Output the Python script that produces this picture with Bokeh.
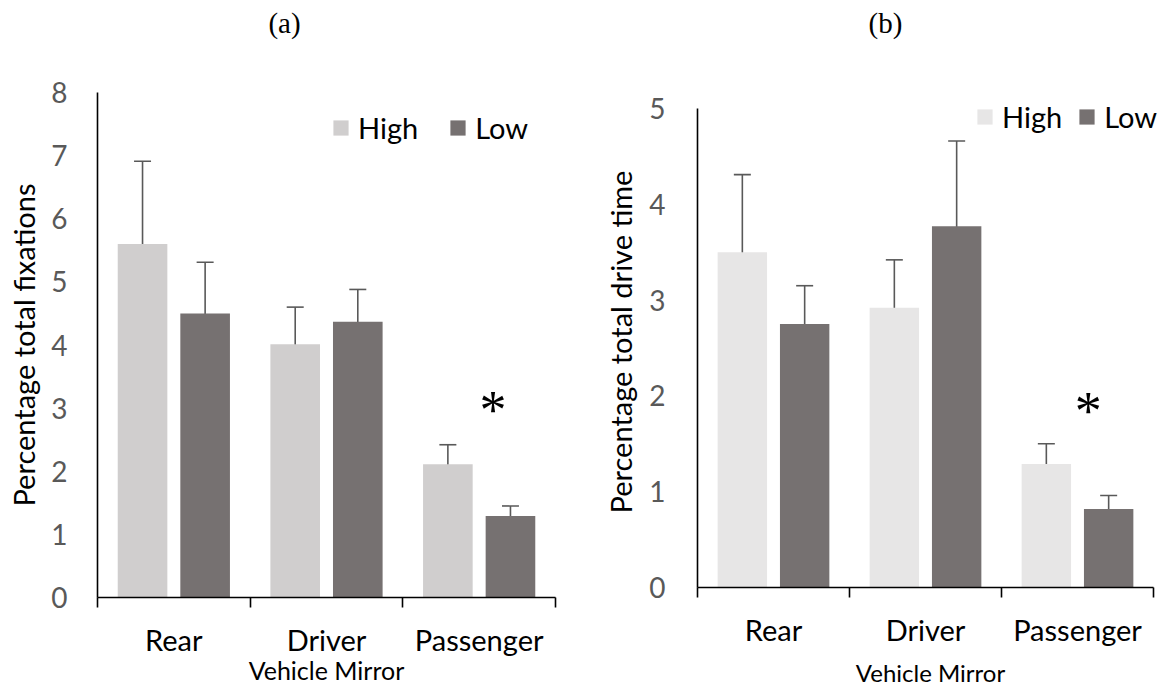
from bokeh.plotting import figure
from bokeh.models import (ColumnDataSource, Range1d, FixedTicker, LinearAxis, Whisker,
                          TeeHead, Legend, LegendItem)
from bokeh.transform import dodge
from bokeh.layouts import row, column
from bokeh.embed import file_html
from bokeh.resources import INLINE
from bokeh.core.properties import value

# ---------------- data ----------------
categories = ["Rear", "Driver", "Passenger"]
groups = ["High", "Low"]
panel_titles = ["(a)", "(b)"]

# (a) percentage total fixations
fix_high = [5.60, 4.01, 2.11]
fix_high_lower = [4.30, 3.41, 1.82]
fix_high_upper = [6.91, 4.60, 2.42]
fix_low = [4.50, 4.37, 1.29]
fix_low_lower = [3.70, 3.87, 1.12]
fix_low_upper = [5.31, 4.88, 1.45]
fix_ticks = [0, 1, 2, 3, 4, 5, 6, 7, 8]
fix_star = ["", "", "*"]
fix_star_y = [0, 0, 3.16]

# (b) percentage total drive time
time_high = [3.50, 2.92, 1.29]
time_high_lower = [2.71, 2.43, 1.09]
time_high_upper = [4.31, 3.42, 1.50]
time_low = [2.75, 3.77, 0.82]
time_low_lower = [2.36, 2.86, 0.70]
time_low_upper = [3.15, 4.66, 0.96]
time_ticks = [0, 1, 2, 3, 4, 5]
time_star = ["", "", "*"]
time_star_y = [0, 0, 1.97]

# ---------------- styling ----------------
HIGH_A = "#D0CECE"
HIGH_B = "#E7E6E6"
LOW_C = "#767171"
ERR_C = "#595959"
FONT = "Lato"
OFF = 0.205
BAR_W = 0.325
TITLE_H = 44
W = 584
H = 689


def title_fig(text, x_range, left, right, tx):
    t = figure(width=W, height=TITLE_H, output_backend="svg", toolbar_location=None,
               x_range=x_range, y_range=Range1d(0, 1),
               min_border_left=left, min_border_right=right,
               min_border_top=0, min_border_bottom=0,
               x_axis_location=None, y_axis_location=None)
    t.frame_align = False
    t.outline_line_color = None
    t.xgrid.visible = False
    t.ygrid.visible = False
    t.text(x=[tx], y=[0.5], text=[text], text_font=value("Liberation Serif"),
           text_font_size="29px", text_align="center", text_baseline="middle",
           text_color="black")
    return t


def panel(ylabel, high, hl, hu, low, ll, lu, ticks, star, star_y, star_dx, high_color,
          borders, x_pad, y_pad, legend_pos, legend_spacing,
          ylab_standoff, xlab_standoff, xlab_size, tick_standoff):
    left, right, top, bottom = borders
    idx = list(range(len(categories)))
    src = ColumnDataSource(dict(
        x=idx, cat=categories, high=high, hl=hl, hu=hu, low=low, ll=ll, lu=lu,
        xh=[i - OFF for i in idx], xl=[i + OFF for i in idx],
        star=star, star_y=star_y,
        xs=[i + star_dx for i in idx],
    ))
    p = figure(width=W, height=H - TITLE_H, output_backend="svg", toolbar_location=None,
               x_range=Range1d(-0.5, len(categories) - 0.5 + x_pad),
               y_range=Range1d(ticks[0], ticks[-1] + y_pad),
               min_border_left=left, min_border_right=right,
               min_border_top=top, min_border_bottom=bottom,
               x_axis_location=None, y_axis_location=None)
    p.frame_align = False
    p.outline_line_color = None
    p.xgrid.visible = False
    p.ygrid.visible = False
    p.background_fill_color = "white"
    p.border_fill_color = "white"

    rh = p.vbar(x=dodge("x", -OFF), top="high", width=BAR_W, source=src,
                fill_color=high_color, line_color=None)
    rl = p.vbar(x=dodge("x", OFF), top="low", width=BAR_W, source=src,
                fill_color=LOW_C, line_color=None)

    for base, lo, up in (("xh", "hl", "hu"), ("xl", "ll", "lu")):
        w = Whisker(base=base, lower=lo, upper=up, source=src,
                    line_color=ERR_C, line_width=1.6,
                    lower_head=TeeHead(size=17, line_color=ERR_C, line_width=1.6),
                    upper_head=TeeHead(size=17, line_color=ERR_C, line_width=1.6))
        p.add_layout(w)

    p.text(x="xs", y="star_y", text="star", source=src,
           text_font=value("Liberation Serif"), text_font_size="54px",
           text_align="center", text_baseline="middle", text_color="black",
           y_offset=12)

    # y axis
    yax = LinearAxis(ticker=FixedTicker(ticks=ticks), bounds=(ticks[0], ticks[-1]))
    yax.axis_label = ylabel
    yax.axis_label_text_font = FONT
    yax.axis_label_text_font_size = "29px"
    yax.axis_label_text_font_style = "normal"
    yax.axis_label_text_color = "black"
    yax.axis_label_standoff = ylab_standoff
    yax.major_tick_line_color = None
    yax.minor_tick_line_color = None
    yax.major_tick_out = 0
    yax.major_tick_in = 0
    yax.major_label_standoff = tick_standoff
    yax.major_label_text_font = FONT
    yax.major_label_text_font_size = "28px"
    yax.major_label_text_color = "#595959"
    yax.axis_line_color = "black"
    yax.axis_line_width = 1.6
    p.add_layout(yax, "left")

    # x axis: labels at category centres, ticks at category boundaries
    bounds = [i - 0.5 for i in range(len(categories) + 1)]
    xax = LinearAxis(ticker=FixedTicker(ticks=idx, minor_ticks=bounds),
                     bounds=(bounds[0], bounds[-1]))
    xax.major_label_overrides = {i: c for i, c in zip(idx, categories)}
    xax.axis_label = "Vehicle Mirror"
    xax.axis_label_text_font = FONT
    xax.axis_label_text_font_size = xlab_size
    xax.axis_label_text_font_style = "normal"
    xax.axis_label_text_color = "black"
    xax.axis_label_standoff = xlab_standoff
    xax.major_tick_line_color = None
    xax.major_tick_out = 0
    xax.major_tick_in = 0
    xax.minor_tick_line_color = "black"
    xax.minor_tick_line_width = 1.6
    xax.minor_tick_out = 10
    xax.minor_tick_in = 0
    xax.major_label_standoff = 14
    xax.major_label_text_font = FONT
    xax.major_label_text_font_size = "29px"
    xax.major_label_text_color = "black"
    xax.axis_line_color = "black"
    xax.axis_line_width = 1.6
    p.add_layout(xax, "below")

    legend = Legend(items=[LegendItem(label=groups[0], renderers=[rh]),
                           LegendItem(label=groups[1], renderers=[rl])],
                    orientation="horizontal", location=legend_pos,
                    background_fill_alpha=0, border_line_color=None,
                    padding=0, margin=0, spacing=legend_spacing,
                    glyph_width=19, glyph_height=19, label_standoff=8,
                    label_height=36,
                    label_text_font=FONT, label_text_font_size="29px",
                    label_text_color="black")
    p.add_layout(legend)
    return p


pa = panel("Percentage total fixations", fix_high, fix_high_lower, fix_high_upper,
           fix_low, fix_low_lower, fix_low_upper, fix_ticks, fix_star, fix_star_y, 0.09,
           HIGH_A, borders=(97, 29, 92 - TITLE_H, 92), x_pad=0.0, y_pad=0.0,
           legend_pos=(234, 452), legend_spacing=30,
           ylab_standoff=7, xlab_standoff=-5, xlab_size="25px", tick_standoff=30)

pb = panel("Percentage total drive time", time_high, time_high_lower, time_high_upper,
           time_low, time_low_lower, time_low_upper, time_ticks, time_star, time_star_y, 0.07,
           HIGH_B, borders=(113, 5, 96 - TITLE_H, 101), x_pad=10 / 152, y_pad=12 / 96,
           legend_pos=(278, 453), legend_spacing=15,
           ylab_standoff=8, xlab_standoff=8, xlab_size="24px", tick_standoff=32)

ta = title_fig(panel_titles[0], pa.x_range, 97, 29, 0.725)
tb = title_fig(panel_titles[1], pb.x_range, 113, 5, 0.737)

layout = column(row(ta, tb), row(pa, pb))
open("out.html", "w").write(file_html(layout, INLINE))
